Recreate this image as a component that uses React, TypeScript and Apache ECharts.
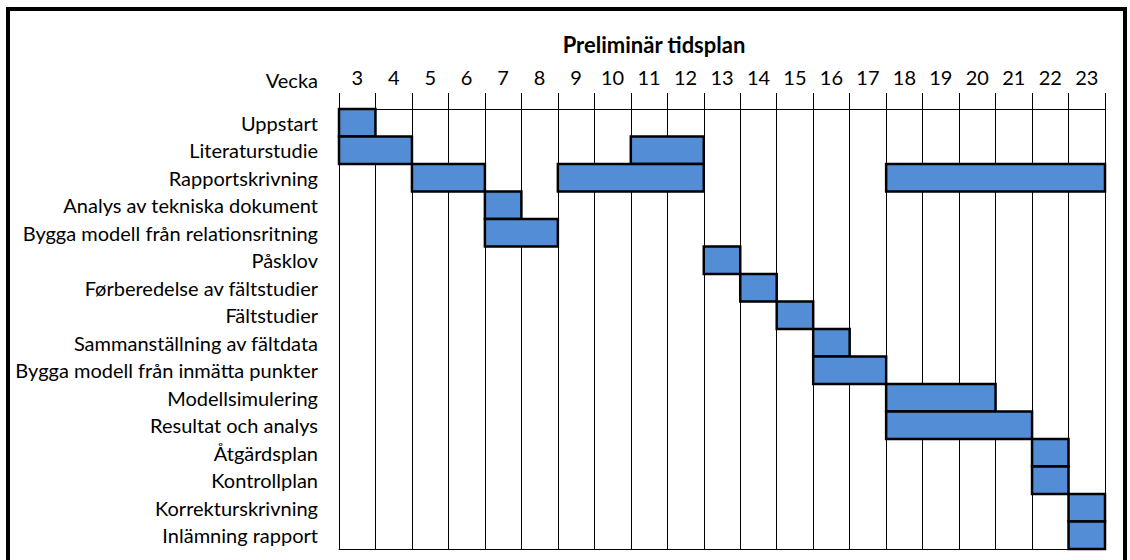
import React, { useEffect, useRef } from "react";
import * as echarts from "echarts";

const weeks = [3, 4, 5, 6, 7, 8, 9, 10, 11, 12, 13, 14, 15, 16, 17, 18, 19, 20, 21, 22, 23];

const tasks = [
  "Uppstart",
  "Literaturstudie",
  "Rapportskrivning",
  "Analys av tekniska dokument",
  "Bygga modell från relationsritning",
  "Påsklov",
  "Førberedelse av fältstudier",
  "Fältstudier",
  "Sammanställning av fältdata",
  "Bygga modell från inmätta punkter",
  "Modellsimulering",
  "Resultat och analys",
  "Åtgärdsplan",
  "Kontrollplan",
  "Korrekturskrivning",
  "Inlämning rapport",
];

// [task index, first week, last week]
const periods: [number, number, number][] = [
  [0, 3, 3],
  [1, 3, 4],
  [1, 11, 12],
  [2, 5, 6],
  [2, 9, 12],
  [2, 18, 23],
  [3, 7, 7],
  [4, 7, 8],
  [5, 13, 13],
  [6, 14, 14],
  [7, 15, 15],
  [8, 16, 16],
  [9, 16, 17],
  [10, 18, 20],
  [11, 18, 21],
  [12, 22, 22],
  [13, 22, 22],
  [14, 23, 23],
  [15, 23, 23],
];

const FONT = "Lato, Carlito, 'Open Sans', sans-serif";

export default function App() {
  const ref = useRef<HTMLDivElement>(null);

  useEffect(() => {
    document.body.style.margin = "0";
    if (!ref.current) return;
    const chart = echarts.init(ref.current, undefined, { renderer: "svg" });
    chart.setOption({
      animation: false,
      backgroundColor: "#ffffff",
      grid: { left: 339, right: 25, top: 109, bottom: 11, containLabel: false },
      graphic: [
        {
          type: "rect",
          shape: { x: 8, y: 9, width: 1117, height: 620 },
          style: { fill: "none", stroke: "#000", lineWidth: 4 },
          z: 100,
        },
        {
          type: "text",
          x: 654,
          y: 44,
          style: {
            text: "Preliminär tidsplan",
            font: `bold 22px ${FONT}`,
            fill: "#000",
            align: "center",
            verticalAlign: "middle",
          },
        },
        {
          type: "text",
          x: 318,
          y: 80,
          style: {
            text: "Vecka",
            font: `20px ${FONT}`,
            fill: "#000",
            align: "right",
            verticalAlign: "middle",
          },
        },
      ],
      xAxis: [
        {
          type: "category",
          position: "top",
          data: weeks.map(String),
          boundaryGap: true,
          axisLine: { show: true, lineStyle: { color: "#000", width: 1 } },
          axisTick: { show: true, length: 16, lineStyle: { color: "#000", width: 1 } },
          axisLabel: {
            margin: 22,
            color: "#000",
            fontSize: 20,
            fontFamily: FONT,
            interval: 0,
          },
          splitLine: { show: true, lineStyle: { color: "#000", width: 1 } },
        },
        {
          type: "value",
          position: "bottom",
          min: 2.5,
          max: 23.5,
          axisLine: { show: true, onZero: false, lineStyle: { color: "#000", width: 1 } },
          axisTick: { show: false },
          axisLabel: { show: false },
          splitLine: { show: false },
        },
      ],
      yAxis: {
        type: "category",
        data: tasks,
        inverse: true,
        axisLine: { show: false },
        axisTick: { show: false },
        splitLine: { show: false },
        axisLabel: {
          margin: 21,
          color: "#000",
          fontSize: 20,
          fontFamily: FONT,
          interval: 0,
        },
      },
      series: [
        {
          type: "custom",
          xAxisIndex: 1,
          yAxisIndex: 0,
          encode: { x: [1, 2], y: 0 },
          data: periods,
          renderItem: (params: any, api: any) => {
            const row = api.value(0);
            const start = api.value(1) - 0.5;
            const end = api.value(2) + 0.5;
            const p0 = api.coord([start, row]);
            const p1 = api.coord([end, row]);
            const h = api.size([0, 1])[1];
            return {
              type: "rect",
              shape: { x: p0[0], y: p0[1] - h / 2, width: p1[0] - p0[0], height: h },
              style: { fill: "#538DD5", stroke: "#000", lineWidth: 2.5 },
            };
          },
        },
      ],
    });
    return () => chart.dispose();
  }, []);

  return <div ref={ref} style={{ width: 1130, height: 560 }} />;
}
